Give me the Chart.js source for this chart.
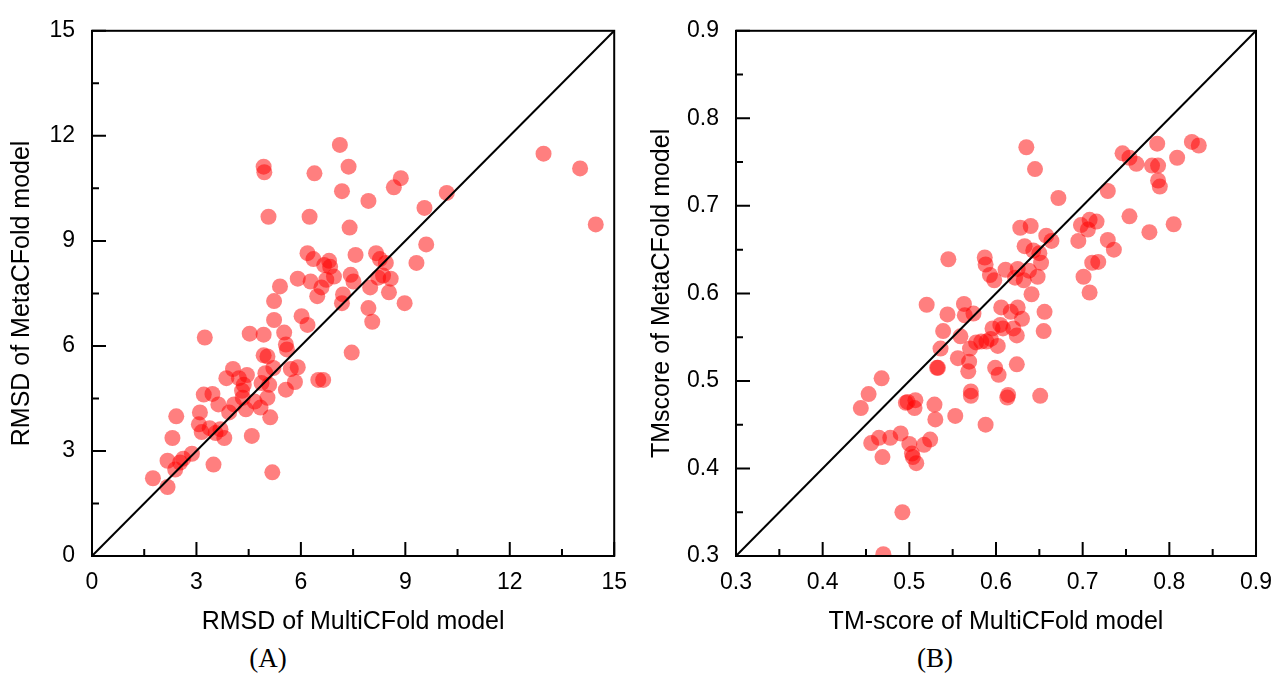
<!DOCTYPE html>
<html>
<head>
<meta charset="utf-8">
<script src="https://cdn.jsdelivr.net/npm/chart.js@4.4.1/dist/chart.umd.min.js"></script>
<style>
  body { margin: 0; background: #fff; width: 1285px; height: 673px; position: relative; overflow: hidden; }
  canvas { position: absolute; top: 0; }
  .cap { position: absolute; top: 642px; width: 100px; text-align: center; font: 27px "Liberation Serif", serif; line-height: 32px; color: #000; }
</style>
</head>
<body>
<canvas id="rmsd" width="640" height="640" style="left:0"></canvas>
<canvas id="tms" width="645" height="640" style="left:640px"></canvas>
<div class="cap" style="left:218px">(A)</div>
<div class="cap" style="left:885px">(B)</div>
<script>
// (A) RMSD: MultiCFold (x) vs MetaCFold (y)
const rmsdMulti = [1.75,2.17,2.17,2.31,2.42,2.39,2.53,2.62,2.87,3.07,
  3.10,3.15,3.24,3.21,3.38,3.46,3.55,3.49,3.63,3.69,
  3.80,3.86,3.94,4.05,4.08,4.22,4.31,4.33,4.36,4.42,
  4.45,4.53,4.59,4.67,4.84,4.87,4.93,4.93,4.93,4.95,
  4.98,5.04,5.07,5.04,5.09,5.12,5.18,5.21,5.23,5.23,
  5.40,5.52,5.57,5.57,5.60,5.71,5.83,5.91,5.91,6.02,
  6.19,6.25,6.19,6.28,6.36,6.39,6.47,6.50,6.59,6.64,
  6.67,6.73,6.81,6.84,6.95,7.12,7.18,7.18,7.21,7.37,
  7.40,7.43,7.46,7.51,7.57,7.94,7.94,7.99,8.05,8.16,
  8.22,8.27,8.36,8.44,8.53,8.58,8.67,8.87,8.98,9.32,
  9.55,9.60,10.19,12.97,14.02,14.47];
const rmsdMeta = [2.22,1.97,2.72,3.37,3.99,2.47,2.67,2.78,2.92,3.76,
  4.10,3.54,6.24,4.61,3.65,4.63,3.51,2.61,4.33,3.62,
  3.37,5.08,4.10,5.34,4.33,5.08,4.72,4.52,4.89,4.19,
  5.17,6.35,3.43,4.41,4.24,4.94,5.73,6.32,11.12,10.96,
  5.22,5.70,9.69,4.52,4.89,3.96,2.39,5.37,6.74,7.28,
  7.70,6.38,6.04,4.75,5.90,5.34,4.97,7.92,5.39,6.85,
  8.65,9.69,6.60,7.84,8.48,10.93,7.42,5.03,7.67,5.03,
  8.31,7.89,8.43,8.26,7.98,11.74,10.42,7.22,7.47,11.12,
  9.38,8.03,5.81,7.84,8.60,10.14,7.08,7.67,6.69,8.65,
  7.95,8.48,8.01,8.37,7.53,7.92,10.53,10.79,7.22,8.37,
  9.94,8.90,10.37,11.49,11.07,9.47];
const rmsdTicks = [0, 3, 6, 9, 12, 15];

// (B) TM-score: MultiCFold (x) vs MetaCFold (y)
const tmMulti = [0.444,0.453,0.456,0.465,0.468,0.469,0.470,0.478,0.490,0.492,
  0.496,0.498,0.500,0.503,0.504,0.506,0.507,0.508,0.517,0.524,
  0.520,0.529,0.530,0.532,0.533,0.536,0.539,0.544,0.545,0.553,
  0.556,0.559,0.563,0.564,0.568,0.569,0.570,0.571,0.571,0.574,
  0.577,0.583,0.587,0.588,0.589,0.588,0.593,0.594,0.596,0.598,
  0.599,0.602,0.603,0.605,0.606,0.608,0.611,0.613,0.614,0.617,
  0.620,0.622,0.624,0.624,0.625,0.625,0.628,0.630,0.632,0.633,
  0.635,0.638,0.640,0.641,0.643,0.645,0.648,0.650,0.652,0.651,
  0.656,0.655,0.658,0.664,0.672,0.695,0.698,0.701,0.706,0.708,
  0.708,0.711,0.716,0.718,0.729,0.729,0.736,0.746,0.754,0.754,
  0.762,0.777,0.780,0.786,0.787,0.787,0.789,0.805,0.809,0.826,
  0.834];
const tmMeta = [0.469,0.485,0.429,0.435,0.503,0.413,0.302,0.435,0.440,0.350,
  0.475,0.476,0.428,0.417,0.413,0.469,0.478,0.406,0.427,0.433,
  0.587,0.473,0.456,0.515,0.515,0.537,0.557,0.576,0.639,0.460,
  0.526,0.551,0.588,0.575,0.511,0.522,0.537,0.488,0.483,0.577,
  0.544,0.545,0.641,0.633,0.545,0.450,0.621,0.548,0.560,0.615,
  0.515,0.540,0.507,0.564,0.584,0.560,0.627,0.481,0.484,0.579,
  0.560,0.618,0.552,0.519,0.584,0.628,0.675,0.571,0.615,0.654,
  0.767,0.626,0.677,0.599,0.649,0.742,0.619,0.646,0.635,0.483,
  0.579,0.557,0.666,0.660,0.709,0.660,0.678,0.619,0.673,0.684,
  0.601,0.635,0.682,0.636,0.717,0.661,0.650,0.760,0.755,0.688,
  0.748,0.670,0.746,0.771,0.746,0.729,0.722,0.679,0.755,0.773,
  0.769];
const tmTicks = [0.3, 0.4, 0.5, 0.6, 0.7, 0.8, 0.9];

// box around plot + inward major/minor ticks
const frameTicks = {
  id: 'frameTicks',
  afterDatasetsDraw(chart, args, opts) {
    const { ctx, chartArea: a, scales: { x, y } } = chart;
    const t = opts.ticks;
    ctx.save();
    ctx.strokeStyle = '#000';
    ctx.lineWidth = 2;
    ctx.strokeRect(a.left, a.top, a.right - a.left, a.bottom - a.top);
    ctx.beginPath();
    for (let i = 0; i < t.length; i++) {
      const px = x.getPixelForValue(t[i]);
      const py = y.getPixelForValue(t[i]);
      ctx.moveTo(px, a.bottom); ctx.lineTo(px, a.bottom - 14);
      ctx.moveTo(a.left, py); ctx.lineTo(a.left + 14, py);
      if (i < t.length - 1) {
        const mid = (t[i] + t[i + 1]) / 2;
        const mx = x.getPixelForValue(mid);
        const my = y.getPixelForValue(mid);
        ctx.moveTo(mx, a.bottom); ctx.lineTo(mx, a.bottom - 7);
        ctx.moveTo(a.left, my); ctx.lineTo(a.left + 7, my);
      }
    }
    ctx.stroke();
    ctx.restore();
  }
};

function makeChart(id, xs, ys, ticks, xTitle, yTitle, yWidth, padRight, digits) {
  const lo = ticks[0], hi = ticks[ticks.length - 1];
  const tickFont = { family: 'Liberation Sans', size: 23 };
  const titleFont = { family: 'Liberation Sans', size: 25 };
  return new Chart(document.getElementById(id), {
    type: 'scatter',
    data: {
      datasets: [{
        data: xs.map((v, i) => ({ x: v, y: ys[i] })),
        backgroundColor: 'rgba(255,0,0,0.5)',
        borderWidth: 0,
        pointRadius: 8,
        order: 1
      }, {
        type: 'line',
        data: [{ x: lo, y: lo }, { x: hi, y: hi }],
        borderColor: '#000',
        borderWidth: 2,
        pointRadius: 0,
        order: 0
      }]
    },
    options: {
      responsive: false,
      animation: false,
      devicePixelRatio: 1,
      layout: { padding: { top: 23, right: padRight, bottom: 0, left: 0 } },
      plugins: {
        legend: { display: false },
        tooltip: { enabled: false },
        frameTicks: { ticks: ticks }
      },
      scales: {
        x: {
          type: 'linear', min: lo, max: hi,
          afterBuildTicks: s => { s.ticks = ticks.map(v => ({ value: v })); },
          afterFit: s => { s.height = 84; },
          grid: { display: false, drawTicks: false },
          border: { display: false },
          ticks: { color: '#000', font: tickFont, padding: 13, maxRotation: 0, autoSkip: false,
                   callback: v => v.toFixed(digits) },
          title: { display: true, text: xTitle, color: '#000', font: titleFont, padding: { top: 0, bottom: 3 } }
        },
        y: {
          type: 'linear', min: lo, max: hi,
          afterBuildTicks: s => { s.ticks = ticks.map(v => ({ value: v })); },
          afterFit: s => { s.width = yWidth; },
          grid: { display: false, drawTicks: false },
          border: { display: false },
          ticks: { color: '#000', font: tickFont, padding: 17, autoSkip: false,
                   callback: v => v.toFixed(digits) },
          title: { display: true, text: yTitle, color: '#000', font: titleFont, padding: { top: 7, bottom: 0 } }
        }
      }
    },
    plugins: [frameTicks]
  });
}

makeChart('rmsd', rmsdMulti, rmsdMeta, rmsdTicks,
  'RMSD of MultiCFold model', 'RMSD of MetaCFold model', 92, 14, 0);
makeChart('tms', tmMulti, tmMeta, tmTicks,
  'TM-score of MultiCFold model', 'TMscore of MetaCFold model', 96, 16, 1);
</script>
</body>
</html>
